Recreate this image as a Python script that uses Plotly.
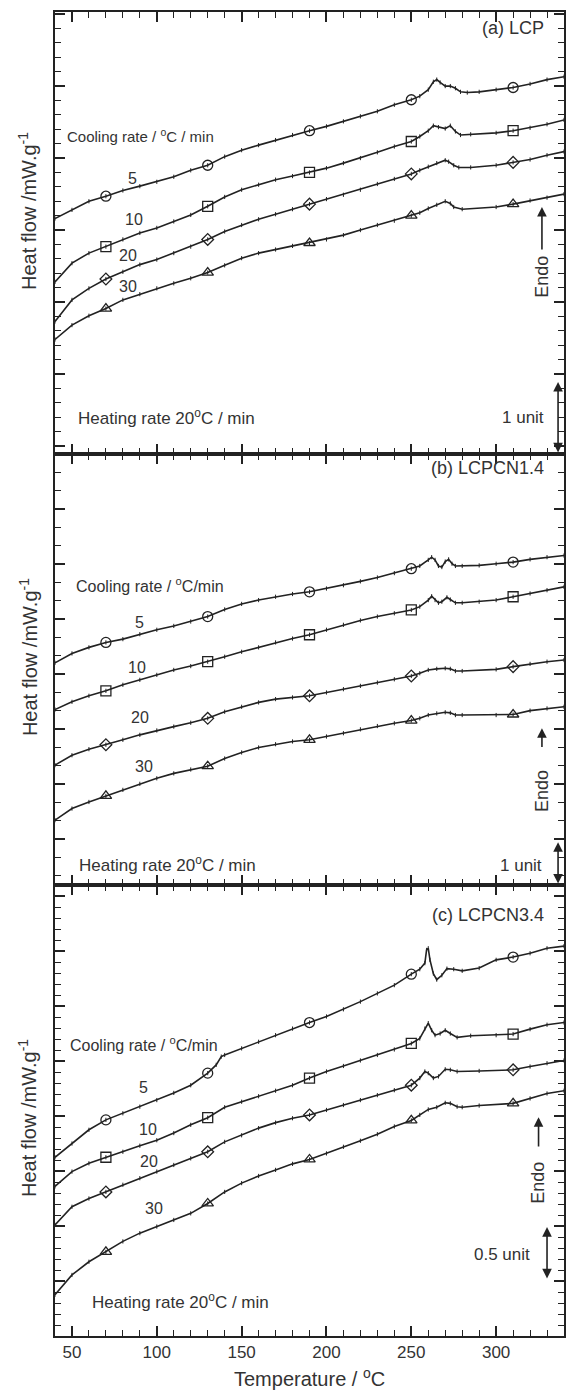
import plotly.graph_objects as go
from plotly.subplots import make_subplots

# ---------------- data (heat flow in arbitrary offset units) ----------------
T_a5 = [40,50,60,70,80,90,100,110,120,130,140,150,160,170,180,190,200,210,220,230,240,250,255,260,263,265,267,270,273,276,279,283,290,300,310,320,330,340]
y_a5 = [3.27,3.39,3.51,3.58,3.66,3.72,3.78,3.85,3.94,4.01,4.13,4.22,4.29,4.36,4.43,4.49,4.55,4.62,4.69,4.76,4.85,4.92,4.97,5.06,5.17,5.20,5.16,5.11,5.11,5.08,5.03,5.02,5.03,5.06,5.09,5.14,5.20,5.24]
T_a10 = [40,50,60,70,80,90,100,110,120,130,140,150,160,170,180,190,200,210,220,230,240,250,255,260,263,266,270,273,276,279,285,300,310,320,330,340]
y_a10 = [2.39,2.65,2.79,2.88,2.98,3.07,3.14,3.23,3.32,3.44,3.57,3.67,3.74,3.81,3.86,3.91,3.97,4.04,4.11,4.19,4.27,4.34,4.41,4.49,4.56,4.54,4.52,4.56,4.48,4.43,4.44,4.46,4.49,4.53,4.58,4.64]
T_a20 = [40,50,60,70,80,90,100,110,120,130,140,150,160,170,180,190,200,210,220,230,240,250,255,260,265,270,272,275,278,285,300,310,320,330,340]
y_a20 = [1.84,2.14,2.30,2.43,2.53,2.63,2.70,2.79,2.88,2.98,3.09,3.18,3.26,3.33,3.40,3.47,3.54,3.60,3.67,3.75,3.82,3.89,3.94,3.99,4.04,4.08,4.06,4.01,3.98,3.98,4.01,4.05,4.09,4.15,4.20]
T_a30 = [40,50,60,70,80,90,100,110,120,130,140,150,160,170,180,190,200,210,220,230,240,250,255,260,265,270,273,275,280,300,310,320,330,340]
y_a30 = [1.59,1.79,1.92,2.02,2.14,2.22,2.30,2.37,2.44,2.52,2.62,2.72,2.79,2.84,2.89,2.93,2.98,3.04,3.11,3.18,3.24,3.31,3.35,3.41,3.46,3.51,3.48,3.43,3.40,3.43,3.47,3.52,3.56,3.61]

T_b5 = [40,50,60,70,80,90,100,110,120,130,140,150,160,170,180,190,200,210,220,230,240,250,255,260,262,264,266,268,270,272,274,276,280,290,300,310,320,330,340]
y_b5 = [4.04,4.21,4.32,4.41,4.47,4.56,4.64,4.71,4.79,4.88,5.01,5.11,5.18,5.24,5.29,5.33,5.39,5.45,5.52,5.59,5.67,5.75,5.80,5.91,5.96,5.91,5.80,5.78,5.88,5.92,5.84,5.80,5.80,5.81,5.84,5.87,5.92,5.96,5.99]
T_b10 = [40,50,60,70,80,90,100,110,120,130,140,150,160,170,180,190,200,210,220,230,240,250,255,260,262,264,266,268,271,273,276,280,290,300,310,320,330,340]
y_b10 = [3.19,3.33,3.44,3.53,3.64,3.73,3.82,3.91,3.98,4.06,4.15,4.24,4.32,4.41,4.48,4.55,4.64,4.73,4.81,4.88,4.94,5.00,5.06,5.18,5.25,5.18,5.13,5.15,5.23,5.19,5.13,5.13,5.15,5.18,5.24,5.30,5.36,5.42]
T_b20 = [40,50,60,70,80,90,100,110,120,130,140,150,160,170,180,190,200,210,220,230,240,250,255,260,265,270,273,276,280,300,310,320,330,340]
y_b20 = [2.18,2.36,2.47,2.55,2.64,2.73,2.81,2.88,2.95,3.03,3.15,3.24,3.32,3.38,3.41,3.44,3.50,3.56,3.62,3.68,3.74,3.80,3.85,3.91,3.93,3.94,3.93,3.89,3.89,3.92,3.97,4.02,4.06,4.09]
T_b30 = [40,50,60,70,80,90,100,110,120,130,140,150,160,170,180,190,200,210,220,230,240,250,255,260,265,270,273,276,280,300,310,320,330,340]
y_b30 = [1.18,1.39,1.51,1.62,1.73,1.84,1.94,2.03,2.10,2.16,2.30,2.41,2.50,2.56,2.61,2.64,2.70,2.76,2.83,2.89,2.94,2.99,3.03,3.09,3.12,3.14,3.13,3.09,3.09,3.09,3.10,3.17,3.21,3.24]

T_c5 = [40,50,60,70,80,90,100,110,120,130,135,138,140,150,160,170,180,190,200,210,220,230,240,250,255,258,259,260,261,263,265,268,271,275,280,290,300,310,320,330,340]
y_c5 = [3.25,3.50,3.75,3.93,4.05,4.17,4.29,4.42,4.56,4.78,4.93,5.08,5.11,5.23,5.35,5.47,5.59,5.70,5.81,5.94,6.08,6.23,6.38,6.58,6.67,6.78,7.02,7.05,6.84,6.59,6.48,6.56,6.68,6.67,6.64,6.69,6.84,6.89,6.96,7.05,7.09]
T_c10 = [40,50,60,70,80,90,100,110,120,130,140,150,160,170,180,190,200,210,220,230,240,250,255,258,260,262,264,267,270,273,277,285,300,310,320,330,340]
y_c10 = [2.72,2.99,3.14,3.25,3.35,3.46,3.56,3.69,3.84,3.97,4.16,4.26,4.36,4.46,4.56,4.69,4.81,4.91,5.01,5.11,5.21,5.32,5.41,5.59,5.69,5.56,5.47,5.50,5.56,5.50,5.43,5.46,5.47,5.49,5.58,5.66,5.70]
T_c20 = [40,50,60,70,80,90,100,110,120,130,140,150,160,170,180,190,200,210,220,230,240,250,255,258,260,263,266,270,273,277,290,310,320,330,340]
y_c20 = [2.02,2.35,2.50,2.62,2.75,2.87,2.99,3.11,3.23,3.35,3.53,3.65,3.78,3.88,3.96,4.02,4.11,4.20,4.29,4.38,4.47,4.56,4.69,4.81,4.78,4.69,4.72,4.85,4.84,4.81,4.82,4.84,4.90,4.96,5.01]
T_c30 = [40,50,60,70,80,90,100,110,120,130,140,150,160,170,180,190,200,210,220,230,240,250,255,260,265,270,273,277,280,290,310,320,330,340]
y_c30 = [0.75,1.11,1.35,1.53,1.72,1.87,1.99,2.11,2.23,2.41,2.62,2.78,2.91,3.02,3.13,3.21,3.32,3.44,3.55,3.67,3.81,3.92,4.02,4.12,4.16,4.24,4.23,4.17,4.16,4.19,4.23,4.32,4.41,4.46]

marker_temps = [70, 130, 190, 250, 310]
symbols = ["circle-open", "square-open", "diamond-open", "triangle-up-open"]
sym_sizes = [10, 10, 9, 10]
rate_labels = ["5", "10", "20", "30"]

panels = [
    [(T_a5, y_a5), (T_a10, y_a10), (T_a20, y_a20), (T_a30, y_a30)],
    [(T_b5, y_b5), (T_b10, y_b10), (T_b20, y_b20), (T_b30, y_b30)],
    [(T_c5, y_c5), (T_c10, y_c10), (T_c20, y_c20), (T_c30, y_c30)],
]

INK = "#222222"
TXT = "#333333"
FONT = "Liberation Sans, Arial, sans-serif"

fig = make_subplots(rows=3, cols=1, vertical_spacing=0)

for r, series in enumerate(panels, start=1):
    for k, (T, y) in enumerate(series):
        fig.add_trace(go.Scatter(
            x=T, y=y, mode="lines+markers",
            line=dict(color=INK, width=1.6),
            marker=dict(symbol="line-ns-open", size=3, line=dict(color=INK, width=1)),
            showlegend=False, hoverinfo="skip"), row=r, col=1)
        mx = [t for t in T if t in marker_temps]
        my = [v for t, v in zip(T, y) if t in marker_temps]
        fig.add_trace(go.Scatter(
            x=mx, y=my, mode="markers",
            marker=dict(symbol=symbols[k], size=sym_sizes[k], color=INK,
                        line=dict(color=INK, width=1.3)),
            showlegend=False, hoverinfo="skip"), row=r, col=1)

# axes
doms = [(0.6662, 1.0), (0.3406, 0.6662), (0.0, 0.3406)]
yranges = [(0, 6.139), (0, 7.836), (0, 8.2)]
ytick0 = [0.111, 0.836, 0.0]
yminor = [0.2, 1/3, 0.2]
for i in range(3):
    xa = "xaxis" if i == 0 else f"xaxis{i+1}"
    ya = "yaxis" if i == 0 else f"yaxis{i+1}"
    fig.layout[xa].update(
        range=[40, 340], tick0=0, dtick=50, ticks="inside", ticklen=10, tickwidth=1.5,
        tickcolor=INK, showline=True, linecolor=INK, linewidth=1.5, mirror="ticks",
        showgrid=False, zeroline=False, showticklabels=(i == 2),
        tickfont=dict(family=FONT, size=17, color=TXT),
        minor=dict(dtick=10, tick0=0, ticks="inside", ticklen=6, tickwidth=1, tickcolor=INK),
    )
    fig.layout[ya].update(
        domain=list(doms[i]), range=list(yranges[i]), tick0=ytick0[i], dtick=1,
        ticks="inside", ticklen=10, tickwidth=1.5, tickcolor=INK,
        showline=True, linecolor=INK, linewidth=1.5, mirror="ticks",
        showgrid=False, zeroline=False, showticklabels=False,
        minor=dict(dtick=yminor[i], tick0=ytick0[i], ticks="inside", ticklen=6, tickwidth=1, tickcolor=INK),
    )

ann = []
def txt(text, x, y, ref, xanchor="left", size=15, angle=0):
    ann.append(dict(text=text, x=x, y=y, xref="x" + ref, yref="y" + ref,
                    xanchor=xanchor, yanchor="middle", showarrow=False, textangle=angle,
                    font=dict(family=FONT, size=size, color=TXT)))

def arrow(x, y_tip, y_tail, ref, both=False):
    ann.append(dict(text="", x=x, y=y_tip, ax=x, ay=y_tail, xref="x" + ref, yref="y" + ref,
                    axref="x" + ref, ayref="y" + ref, showarrow=True, arrowhead=2,
                    arrowsize=1.2, arrowwidth=1.6, arrowcolor=INK,
                    arrowside="end+start" if both else "end"))

HEAT = 17
# panel a
txt("(a) LCP", 329.4, 5.92, "", "right", 18)
txt("Cooling rate / <sup>o</sup>C / min", 45.9, 4.42, "", size=15)
for lab, xx, yy in zip(rate_labels, [85.9, 86.5, 83, 83], [3.83, 3.25, 2.75, 2.32]):
    txt(lab, xx, yy, "", "center", 16)
txt("Heating rate 20<sup>o</sup>C / min", 52.4, 0.51, "", size=HEAT)
txt("1 unit", 329.5, 0.51, "", "right", 17)
arrow(336.5, 1.0, 0.0, "", both=True)
txt("Endo", 327, 2.46, "", "center", 18, -90)
arrow(327, 3.43, 2.82, "")

# panel b
txt("(b) LCPCN1.4", 329.4, 7.58, "2", "right", 18)
txt("Cooling rate / <sup>o</sup>C/min", 51.2, 5.45, "2", size=16)
for lab, xx, yy in zip(rate_labels, [90, 88.2, 90, 92.4], [4.78, 3.96, 3.04, 2.15]):
    txt(lab, xx, yy, "2", "center", 16)
txt("Heating rate 20<sup>o</sup>C / min", 53, 0.38, "2", size=HEAT)
txt("1 unit", 328, 0.36, "2", "right", 17)
arrow(336.5, 0.78, 0.0, "2", both=True)
txt("Endo", 327, 1.71, "2", "center", 18, -90)
arrow(327, 2.85, 2.48, "2")

# panel c
txt("(c) LCPCN3.4", 329.4, 7.65, "3", "right", 18)
txt("Cooling rate / <sup>o</sup>C/min", 47.6, 5.31, "3", size=16)
for lab, xx, yy in zip(rate_labels, [92.4, 94.7, 95.3, 98.2], [4.51, 3.76, 3.18, 2.31]):
    txt(lab, xx, yy, "3", "center", 16)
txt("Heating rate 20<sup>o</sup>C / min", 60.6, 0.64, "3", size=HEAT)
txt("0.5 unit", 321.2, 1.49, "3", "right", 17)
arrow(330, 1.98, 1.02, "3", both=True)
txt("Endo", 325, 2.78, "3", "center", 18, -90)
arrow(325, 3.98, 3.42, "3")

# y titles
for yy in [0.8497, 0.5128, 0.1647]:
    ann.append(dict(text="Heat flow /mW.g<sup>-1</sup>", x=-0.053, y=yy, xref="paper", yref="paper",
                    xanchor="center", yanchor="middle", showarrow=False, textangle=-90,
                    font=dict(family=FONT, size=20, color=TXT)))
# x title
ann.append(dict(text="Temperature / <sup>o</sup>C", x=0.5, y=-0.031, xref="paper", yref="paper",
                xanchor="center", yanchor="middle", showarrow=False,
                font=dict(family=FONT, size=20, color=TXT)))

fig.update_layout(
    width=573, height=1390, margin=dict(l=55, r=7, t=12, b=54),
    paper_bgcolor="white", plot_bgcolor="white", annotations=ann,
    font=dict(family=FONT, color=TXT),
)

fig.write_html("out.html")
